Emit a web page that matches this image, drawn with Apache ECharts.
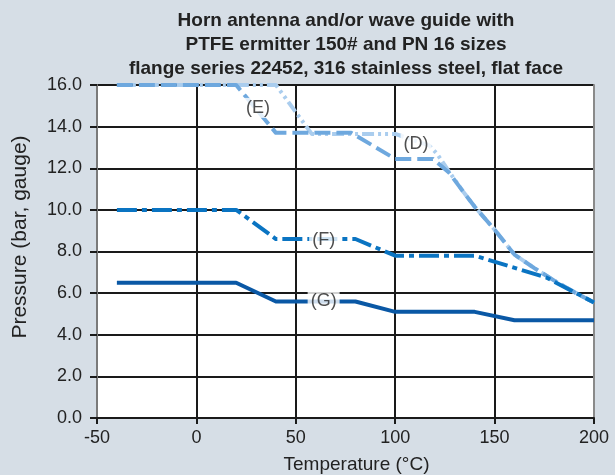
<!DOCTYPE html>
<html>
<head>
<meta charset="utf-8">
<script src="https://cdn.jsdelivr.net/npm/echarts@6/dist/echarts.min.js"></script>
<style>
html,body{margin:0;padding:0;background:#d6dee6;}
#chart{width:615px;height:475px;}
</style>
</head>
<body>
<div id="chart"></div>
<script>
const titleLines = ['Horn antenna and/or wave guide with', 'PTFE ermitter 150# and PN 16 sizes', 'flange series 22452, 316 stainless steel, flat face'];
const xAxisTitle = 'Temperature (\u00b0C)';
const yAxisTitle = 'Pressure (bar, gauge)';
const xMin = -50, xMax = 200, xStep = 50;
const yMin = 0, yMax = 16, yStep = 2;

const tempD = [-40, 40, 58, 100, 117, 121, 127, 134, 140, 150, 160, 170, 180, 190, 200];
const presD = [16, 16, 13.65, 13.65, 13.1, 12.7, 11.85, 10.9, 10.15, 9.05, 7.85, 7.2, 6.6, 6.05, 5.55];
const tempE = [-40, 20, 40, 78, 100, 119, 127, 134, 140, 150, 160, 170, 180, 190, 200];
const presE = [16, 16, 13.7, 13.7, 12.45, 12.45, 11.8, 10.9, 10.15, 9.05, 7.85, 7.2, 6.6, 6.05, 5.55];
const tempF = [-40, 20, 40, 80, 100, 140, 176, 200];
const presF = [10, 10, 8.6, 8.6, 7.8, 7.8, 6.75, 5.55];
const tempG = [-40, 20, 40, 80, 100, 140, 160, 200];
const presG = [6.5, 6.5, 5.6, 5.6, 5.1, 5.1, 4.7, 4.7];

const labelNames = ['(E)', '(D)', '(F)', '(G)'];
const labelTemp = [31, 110.5, 64, 64];
const labelPres = [14.9, 13.17, 8.56, 5.63];

const zip = (a, b) => a.map((v, i) => [v, b[i]]);

const chart = echarts.init(document.getElementById('chart'), null, {renderer: 'canvas'});
const font = '"Liberation Sans", Arial, sans-serif';

function lineSeries(name, t, p, color, width, dash) {
  return {
    name: name, type: 'line', data: zip(t, p), symbol: 'none', animation: false,
    lineStyle: {color: color, width: width, type: dash, cap: 'butt', join: 'round'},
    z: 3
  };
}

chart.setOption({
  backgroundColor: '#d6dee6',
  animation: false,
  title: {
    text: titleLines.join('\n'),
    left: 346, top: 9, textAlign: 'center', padding: 0,
    textStyle: {fontFamily: font, fontSize: 19, fontWeight: 'bold', color: '#222', lineHeight: 24}
  },
  grid: {left: 97, right: 21, top: 85, bottom: 57, show: true, backgroundColor: '#ffffff', borderWidth: 0,
         containLabel: false, outerBoundsMode: 'none'},
  xAxis: {
    type: 'value', min: xMin, max: xMax, interval: xStep,
    name: xAxisTitle, nameLocation: 'middle', nameGap: 37,
    nameTextStyle: {fontFamily: font, fontSize: 19, color: '#222', padding: [0, 0, 0, 22]},
    axisLine: {show: true, onZero: false, lineStyle: {color: '#1a1a1a', width: 2}},
    axisTick: {show: true, inside: false, length: 6, lineStyle: {color: '#1a1a1a', width: 2}},
    axisLabel: {fontFamily: font, fontSize: 18, color: '#222', margin: 11},
    splitLine: {show: true, showMinLine: false, showMaxLine: false, lineStyle: {color: '#1a1a1a', width: 2}}
  },
  yAxis: [{
    type: 'value', min: yMin, max: yMax, interval: yStep,
    axisLine: {show: true, onZero: false, lineStyle: {color: '#7a7a7a', width: 2}},
    axisTick: {show: true, inside: false, length: 7, lineStyle: {color: '#1a1a1a', width: 2}},
    axisLabel: {fontFamily: font, fontSize: 18, color: '#222', margin: 15, formatter: v => v.toFixed(1)},
    splitLine: {show: true, showMinLine: false, lineStyle: {color: '#1a1a1a', width: 2}}
  }, {
    type: 'value', min: yMin, max: yMax, interval: yStep, position: 'right',
    axisLine: {show: true, onZero: false, lineStyle: {color: '#8a8a8a', width: 2}},
    axisTick: {show: false}, axisLabel: {show: false}, splitLine: {show: false}
  }],
  graphic: [{
    type: 'text', x: 20, y: 237, rotation: Math.PI / 2,
    style: {text: yAxisTitle, fontFamily: font, fontSize: 21, fill: '#222', align: 'center', verticalAlign: 'middle'}
  }],
  series: [
    lineSeries('D', tempD, presD, '#aacdee', 4, [12, 4, 3, 4, 3, 4]),
    lineSeries('E', tempE, presE, '#6ea8de', 4, [16, 6]),
    lineSeries('F', tempF, presF, '#0a74c2', 4, [20, 5, 5, 5]),
    lineSeries('G', tempG, presG, '#0a58a5', 4, 'solid'),
    {
      name: 'labels', type: 'scatter', symbolSize: 0, z: 5,
      data: labelNames.map((n, i) => ({name: n, value: [labelTemp[i], labelPres[i]]})),
      label: {
        show: true, position: 'inside', formatter: p => p.name,
        fontFamily: font, fontSize: 18, color: '#222',
        backgroundColor: '#ffffff', padding: [1, 3]
      }
    }
  ]
});
</script>
</body>
</html>
